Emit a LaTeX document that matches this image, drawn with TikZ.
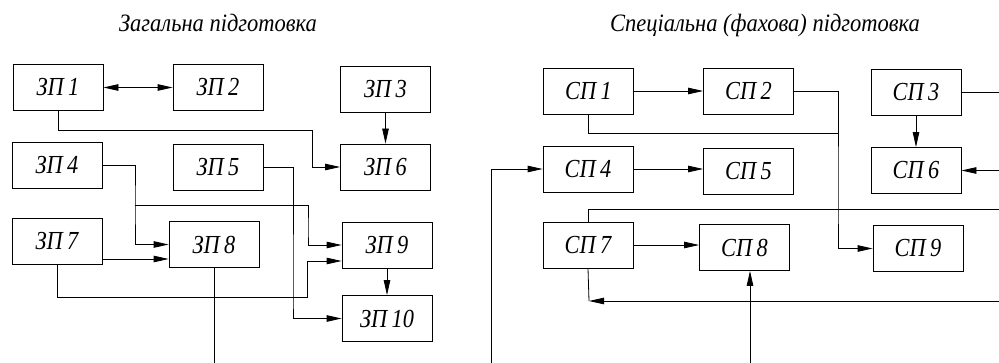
\documentclass[tikz,border=0pt]{standalone}
\usepackage{fontspec}
\setmainfont{Liberation Serif}
\newfontfamily\narrowserif[FakeStretch=0.86]{Liberation Serif}
\newfontfamily\titleserif[FakeStretch=0.9]{Liberation Serif}
\usetikzlibrary{arrows.meta}
\begin{document}
\begin{tikzpicture}[x=1pt,y=-1pt,
  line width=0.8pt,
  blk/.style={draw, minimum width=90pt, minimum height=46pt, inner sep=0pt,
    font=\narrowserif\fontsize{26}{28}\selectfont\itshape},
  ttl/.style={font=\titleserif\fontsize{25}{27}\selectfont\itshape, anchor=base},
  tip/.tip={Triangle[length=15pt,width=6.5pt]},
  arr/.style={-tip},
  darr/.style={tip-tip}]
\useasboundingbox (0,0) rectangle (999,363);

% headings
\node[ttl] (t1) at (218,32) {Загальна підготовка};
\node[ttl] (t2) at (765,32) {Спеціальна (фахова) підготовка};

% general training blocks
\node[blk] (zp1)  at (58,87.5)   {ЗП\,1};
\node[blk] (zp2)  at (218,87.5)  {ЗП\,2};
\node[blk] (zp3)  at (385.5,89)  {ЗП\,3};
\node[blk] (zp4)  at (57,165)    {ЗП\,4};
\node[blk] (zp5)  at (218,167.5) {ЗП\,5};
\node[blk] (zp6)  at (385.5,167) {ЗП\,6};
\node[blk] (zp7)  at (57,241)    {ЗП\,7};
\node[blk] (zp8)  at (214,244.5) {ЗП\,8};
\node[blk] (zp9)  at (387,245)   {ЗП\,9};
\node[blk] (zp10) at (387,318.5) {ЗП\,10};

\coordinate (zpout) at (213,363);

\draw[darr] (zp1.east) -- (zp2.west);
\draw[arr] (zp1.south) |- (312,130) |- (zp6.west);
\draw[arr] (zp3.south) -- (zp6.north);
\draw[arr] (zp4.east) -| (135,205) |- (zp8.west);
\draw[arr] (135,205) -| (308,230) |- (zp9.west);
\draw[arr] (zp5.east) -| (293,300) |- (zp10.west);
\draw[arr] ([yshift=-18pt]zp7.east) -- ([yshift=-18pt]zp7.east -| zp8.west);
\draw[arr] (zp7.south) |- (307,297) |- ([yshift=-16pt]zp9.west);
\draw[arr] (zp9.south) -- (zp10.north);
\draw (zp8.south) -- (zp8.south |- zpout);

% special training blocks
\node[blk] (sp1) at (588.5,91)   {СП\,1};
\node[blk] (sp2) at (748.5,91)   {СП\,2};
\node[blk] (sp3) at (916,92.5)   {СП\,3};
\node[blk] (sp4) at (588,169)    {СП\,4};
\node[blk] (sp5) at (748.5,171.5){СП\,5};
\node[blk] (sp6) at (916,170.5)  {СП\,6};
\node[blk] (sp7) at (588,245)    {СП\,7};
\node[blk] (sp8) at (744.5,247.5){СП\,8};
\node[blk] (sp9) at (918,248.5)  {СП\,9};

\coordinate (e3)  at (999,92.5);
\coordinate (e6)  at (999,170.5);
\coordinate (e7t) at (999,209);
\coordinate (e7b) at (999,301);
\coordinate (b4)  at (491,363);
\coordinate (b8)  at (750,363);
\coordinate (j7)  at (589,301);

\draw[arr] (sp1.east) -- (sp2.west);
\draw[arr] (sp2.east) -| (838,200) |- (sp9.west);
\draw (sp1.south) |- (838,133);
\draw (sp3.east) -- (e3);
\draw[arr] (sp3.south) -- (sp6.north);
\draw[arr] (e6) -- (sp6.east);
\draw[arr] (sp4.east) -- (sp4.east -| sp5.west);
\draw[arr] (b4) |- (sp4.west);
\draw (sp7.north) |- (e7t);
\draw[arr] (sp7.east) -- (sp7.east -| sp8.west);
\draw (sp7.south) -- (j7);
\draw[arr] (e7b) -- (j7);
\draw[arr] (b8) -- (b8 |- sp8.south);
\end{tikzpicture}
\end{document}
